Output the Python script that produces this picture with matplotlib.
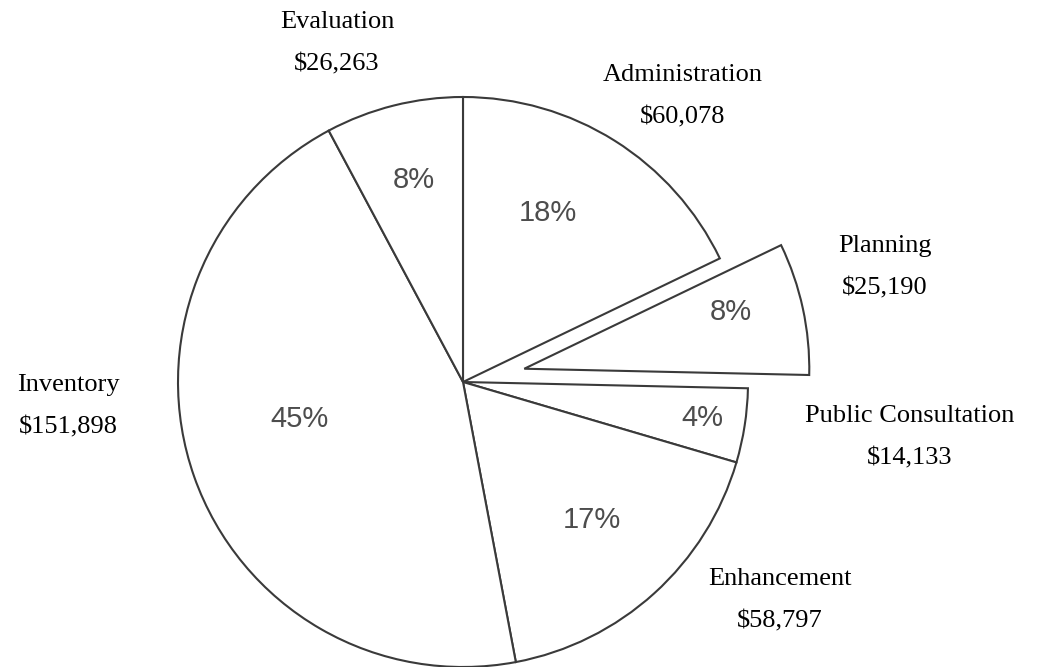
import numpy as np
import matplotlib.pyplot as plt


categories = ["Administration", "Planning", "Public Consultation",
              "Enhancement", "Inventory", "Evaluation"]
amounts = [60078, 25190, 14133, 58797, 151898, 26263]
percent_labels = ["18%", "8%", "4%", "17%", "45%", "8%"]
explode = [0, 0.22, 0, 0, 0, 0]

# layout for the text (radius factor, angle tweak in degrees) per wedge
pct_radius = [0.664, 0.75, 0.848, 0.663, 0.587, 0.73]
pct_angle_shift = [5.4, 3.1, 0.2, 1.0, -6.6, -0.4]
name_pos = [(0.772, 1.002), (1.481, 0.402), (1.568, -0.195),
            (1.112, -0.765), (-1.386, -0.086), (-0.442, 1.188)]

edge = "#3a3a3a"
pct_color = "#4d4d4d"

fig = plt.figure(figsize=(10.42, 6.67), dpi=100)
ax = fig.add_axes([0, 0, 1, 1])

wedges, _ = ax.pie(
    amounts,
    explode=explode,
    startangle=90,
    counterclock=False,
    colors=["white"] * len(amounts),
    wedgeprops=dict(edgecolor=edge, linewidth=1.5),
    radius=1.0,
)

for w, txt, r, da in zip(wedges, percent_labels, pct_radius, pct_angle_shift):
    mid = np.deg2rad((w.theta1 + w.theta2) / 2 + da)
    cx, cy = w.center
    ax.text(cx + r * np.cos(mid), cy + r * np.sin(mid), txt,
            ha="center", va="center", fontsize=21, color=pct_color,
            family="Liberation Sans")

for name, amt, (x, y) in zip(categories, amounts, name_pos):
    ax.text(x, y, f"{name}\n${amt:,}", ha="center", va="center",
            fontsize=19, family="Liberation Serif", color="black",
            linespacing=2.2)

ax.set_xlim(-463 / 285, (1042 - 463) / 285)
ax.set_ylim(-285 / 285, 382 / 285)
ax.set_aspect("auto")
ax.axis("off")

fig.savefig("out.png", dpi=100)
